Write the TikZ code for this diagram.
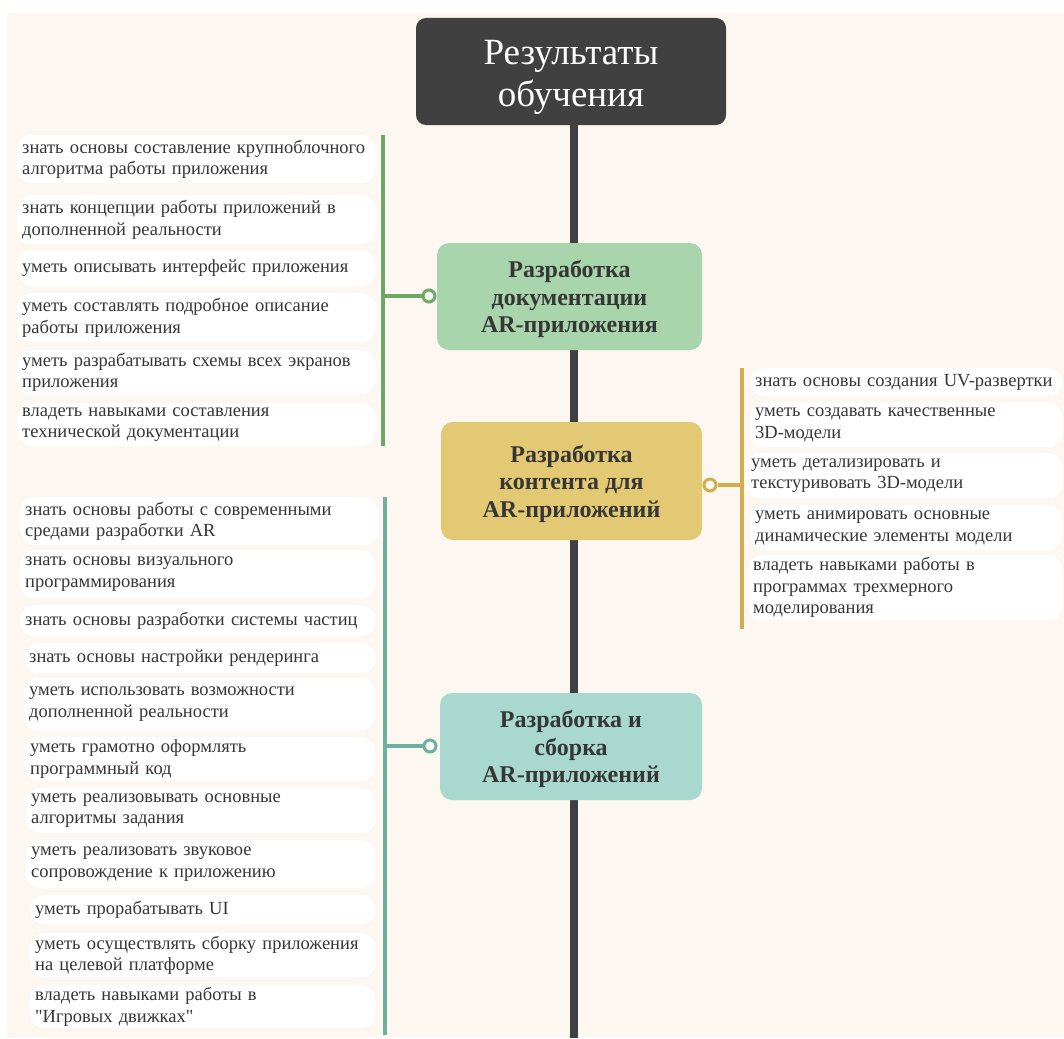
\documentclass[tikz,border=0pt]{standalone}
\usepackage{fontspec}
\setmainfont{Liberation Serif}[Ligatures=TeXOff]
\usepackage{xcolor}
\usetikzlibrary{positioning, calc}
\definecolor{bgcream}{HTML}{FDF7F1}
\definecolor{titlegray}{HTML}{404040}
\definecolor{inktext}{HTML}{363636}
\definecolor{docfill}{HTML}{A9D5AD}
\definecolor{docline}{HTML}{6BA865}
\definecolor{contfill}{HTML}{E3C973}
\definecolor{contline}{HTML}{D2AF4C}
\definecolor{buildfill}{HTML}{A9D9CE}
\definecolor{buildline}{HTML}{6DB09F}
\tikzstyle{headbox} = [fill=titlegray, text=white, rounded corners=10pt, align=center, minimum width=310pt, minimum height=107pt, font=\fontsize{37}{42}\selectfont]
\tikzstyle{topic} = [rounded corners=12pt, align=center, text=inktext, minimum height=107pt, font=\fontsize{24}{27.5}\selectfont\bfseries]
\tikzstyle{leaf} = [fill=white, rounded corners=14pt, anchor=north west, align=left, inner xsep=5pt, inner ysep=0pt, text=inktext, font=\fontsize{18.5}{21.5}\selectfont]
\tikzstyle{branchline} = [line width=3.5pt]
\tikzstyle{knob} = [circle, line width=3pt, fill=bgcream, inner sep=0pt, minimum size=12pt]
\tikzstyle{spine} = [line width=8pt, draw=titlegray]
\newcommand{\toppad}[1]{\rule{0pt}{#1}}

\begin{document}
\begin{tikzpicture}[x=1pt,y=-1pt]
	
	\fill[white] (0,0) rectangle (1064,1038);
	\fill[bgcream] (7,13) rectangle (1064,1038);
	\useasboundingbox (0,0) rectangle (1064,1038);
	
	\coordinate (spinebot) at (574,1038);
	
	\coordinate (gtop) at (383,135);
	\coordinate (gbot) at (383,446);
	\coordinate (ytop) at (742,368);
	\coordinate (ybot) at (742,629);
	\coordinate (ttop) at (385,497);
	\coordinate (tbot) at (385,1035);
	
	\node[headbox] (results) at (571,71.5) {\toppad{35pt}Результаты\\обучения};
	\draw[spine] (spinebot |- results.south) -- (spinebot);
	
	\node[topic, fill=docfill, minimum width=265pt] (docs) at (569.5,296.5) {\toppad{23pt}Разработка\\документации\\AR-приложения};
	\node[topic, fill=contfill, minimum width=261pt, minimum height=118pt] (content) at (571.5,481) {\toppad{23pt}Разработка\\контента для\\AR-приложений};
	\node[topic, fill=buildfill, minimum width=262pt] (build) at (571,746.5) {\toppad{23pt}Разработка и\\сборка\\AR-приложений};
	
	\node[knob, draw=docline] (docsknob) at (429,296) {};
	\node[knob, draw=contline] (contknob) at (710,485) {};
	\node[knob, draw=buildline] (buildknob) at (430,746) {};
	
	\draw[branchline, docline] (gtop) -- (gbot);
	\draw[branchline, docline] (docsknob.west) -- (docsknob -| gtop);
	\draw[branchline, contline] (ytop) -- (ybot);
	\draw[branchline, contline] (contknob.east) -- (contknob -| ytop);
	\draw[branchline, buildline] (ttop) -- (tbot);
	\draw[branchline, buildline] (buildknob.west) -- (buildknob -| ttop);
	
	\node[leaf, text width=348pt, minimum height=48pt] (g1) at (17,135) {знать основы составление крупноблочного\\алгоритма работы приложения};
	\node[leaf, text width=348pt, minimum height=49pt] (g2) at (17,195) {знать концепции работы приложений в\\дополненной реальности};
	\node[leaf, text width=348pt, minimum height=36pt] (g3) at (17,250) {уметь описывать интерфейс приложения};
	\node[leaf, text width=348pt, minimum height=49pt] (g4) at (17,293) {уметь составлять подробное описание\\работы приложения};
	\node[leaf, text width=348pt, minimum height=44pt] (g5) at (17,350) {уметь разрабатывать схемы всех экранов\\приложения};
	\node[leaf, text width=348pt, minimum height=43pt] (g6) at (17,403) {владеть навыками составления\\технической документации};
	
	\node[leaf, text width=302pt, minimum height=28pt] (y1) at (750,368) {знать основы создания UV-развертки};
	\node[leaf, text width=302pt, minimum height=45pt] (y2) at (750,402) {уметь создавать качественные\\3D-модели};
	\node[leaf, text width=306pt, minimum height=45pt] (y3) at (746,453) {уметь детализировать и\\текстуривовать 3D-модели};
	\node[leaf, text width=302pt, minimum height=45pt] (y4) at (750,505) {уметь анимировать основные\\динамические элементы модели};
	\node[leaf, text width=304pt, minimum height=65pt] (y5) at (748,555) {владеть навыками работы в\\программах трехмерного\\моделирования};
	
	\node[leaf, text width=348pt, minimum height=48pt] (t1) at (20,497) {знать основы работы с современными\\средами разработки AR};
	\node[leaf, text width=345pt, minimum height=48pt] (t2) at (20,550) {знать основы визуального\\программирования};
	\node[leaf, text width=345pt, minimum height=31pt] (t3) at (20,605) {знать основы разработки системы частиц};
	\node[leaf, text width=341pt, minimum height=30pt] (t4) at (24,643) {знать основы настройки рендеринга};
	\node[leaf, text width=341pt, minimum height=52pt] (t5) at (24,678) {уметь использовать возможности\\дополненной реальности};
	\node[leaf, text width=340pt, minimum height=44pt] (t6) at (25,737) {уметь грамотно оформлять\\программный код};
	\node[leaf, text width=339pt, minimum height=45pt] (t7) at (26,788) {уметь реализовывать основные\\алгоритмы задания};
	\node[leaf, text width=339pt, minimum height=48pt] (t8) at (26,840) {уметь реализовать звуковое\\сопровождение к приложению};
	\node[leaf, text width=335pt, minimum height=29pt] (t9) at (30,895) {уметь прорабатывать UI};
	\node[leaf, text width=335pt, minimum height=44pt] (t10) at (30,933) {уметь осуществлять сборку приложения\\на целевой платформе};
	\node[leaf, text width=335pt, minimum height=43pt] (t11) at (30,985) {владеть навыками работы в\\"Игровых движках"};
	
\end{tikzpicture}
\end{document}
